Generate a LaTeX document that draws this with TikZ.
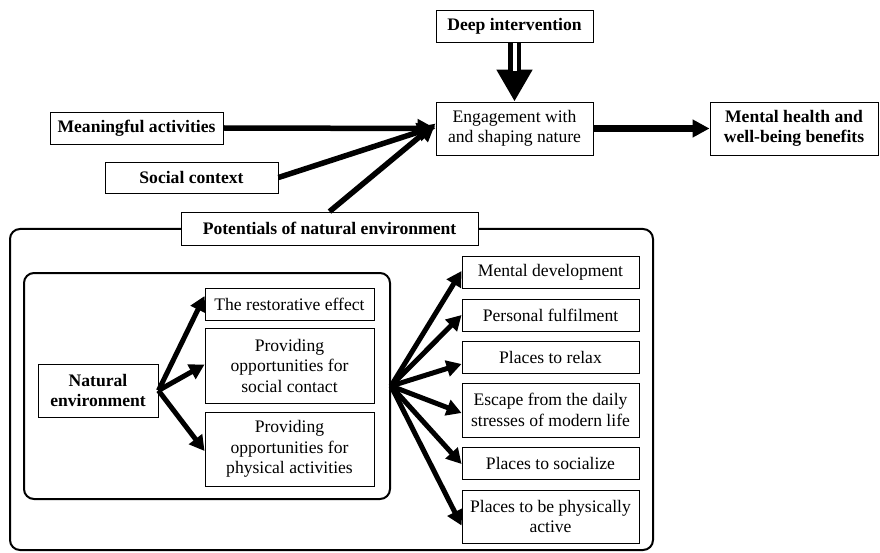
\documentclass[tikz,border=0pt]{standalone}
\usepackage{fontspec}
\setmainfont{Liberation Serif}
\usetikzlibrary{arrows.meta,calc}
\begin{document}
\begin{tikzpicture}[x=1pt,y=-1pt,
  every node/.style={font=\fontsize{17.6pt}{20.5pt}\selectfont},
  box/.style={draw, line width=0.9pt, fill=white, align=center, inner sep=0pt},
  bbox/.style={box, font=\fontsize{17.6pt}{20.5pt}\selectfont\bfseries},
  rbox/.style={draw, line width=2pt, rounded corners=10pt, inner sep=0pt},
  bigarrow/.style={line width=5.5pt, -{Triangle[length=18pt,width=18pt]}},
  fanarrow/.style={line width=5pt, -{Triangle[length=15pt,width=16pt]}}
]
\useasboundingbox (0,0) rectangle (880,553);

% framing regions
\node[rbox, minimum width=643, minimum height=321] (outer) at (331.5,389.5) {};
\node[rbox, minimum width=366, minimum height=226] (inner) at (207,386) {};

% top row
\node[bbox, minimum width=157, minimum height=32] (deep) at (514.5,26) {Deep intervention};
\node[box, minimum width=157, minimum height=53] (eng) at (514.5,128.5) {Engagement with\\and shaping nature};
\node[bbox, minimum width=168, minimum height=53] (mh) at (794,128.5) {Mental health and\\well-being benefits};
\node[bbox, minimum width=173, minimum height=32] (mean) at (136.5,128) {Meaningful activities};
\node[bbox, minimum width=173, minimum height=31] (soc) at (191.5,177.5) {Social context};
\node[bbox, minimum width=297, minimum height=33] (pot) at (329.5,228.5) {Potentials of natural environment};

% inner panel
\node[bbox, minimum width=120, minimum height=53] (nat) at (98,390.5) {Natural\\environment};
\node[box, minimum width=169, minimum height=32] (rest) at (289.5,304) {The restorative effect};
\node[box, minimum width=169, minimum height=75] (psoc) at (289.5,365.5) {Providing\\opportunities for\\social contact};
\node[box, minimum width=169, minimum height=74] (pphys) at (289.5,449) {Providing\\opportunities for\\physical activities};

% right column
\node[box, minimum width=177, minimum height=32] (md) at (550.5,272) {Mental development};
\node[box, minimum width=177, minimum height=32] (pf) at (550.5,315) {Personal fulfilment};
\node[box, minimum width=177, minimum height=32] (rel) at (550.5,357) {Places to relax};
\node[box, minimum width=177, minimum height=54] (esc) at (550.5,410) {Escape from the daily\\stresses of modern life};
\node[box, minimum width=177, minimum height=32] (sz) at (550.5,463) {Places to socialize};
\node[box, minimum width=177, minimum height=53] (act) at (550.5,516.5) {Places to be physically\\active};

% deep intervention: hollow double shaft with a large head
\draw[line width=13pt, -{Triangle[length=32pt,width=34pt]}] (deep.south) -- (eng.north);
\draw[white, line width=4pt, shorten <=1pt, shorten >=31pt] (deep.south) -- (eng.north);

% inputs to engagement
\draw[bigarrow] (mean.east) -- (eng.west);
\draw[bigarrow] (soc.east) -- ([yshift=2pt]eng.west);
\draw[bigarrow] (pot.north) -- ([yshift=5pt]eng.west);
\draw[line width=6.5pt, -{Triangle[length=17pt,width=17pt]}] (eng.east) -- (mh.west);

% natural environment branches
\draw[fanarrow] (nat.east) -- ([yshift=8pt]rest.west);
\draw[fanarrow] (nat.east) -- ([yshift=1pt]psoc.west);
\draw[fanarrow] (nat.east) -- ([yshift=-2pt]pphys.west);

% potentials fan
\coordinate (fan) at (inner.east);
\draw[fanarrow] (fan) -- ([yshift=1pt]md.west);
\draw[fanarrow] (fan) -- (pf.west);
\draw[fanarrow] (fan) -- ([yshift=-7pt]rel.west);
\draw[fanarrow] (fan) -- ([yshift=-3pt]esc.west);
\draw[fanarrow] (fan) -- ([yshift=-1pt]sz.west);
\draw[fanarrow] (fan) -- ([yshift=-9pt]act.west);
\end{tikzpicture}
\end{document}
